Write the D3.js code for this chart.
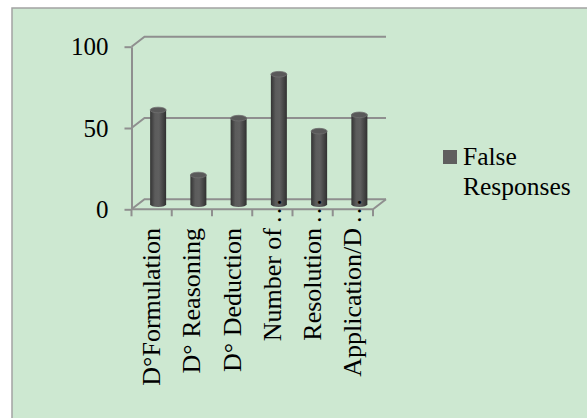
<!DOCTYPE html>
<html>
<head>
<meta charset="utf-8">
<script src="https://cdn.jsdelivr.net/npm/d3@7"></script>
<style>
  body { margin: 0; background: #fff; }
  text { font-family: "Liberation Serif", "Times New Roman", serif; fill: #000; }
</style>
</head>
<body>
<div id="chart"></div>
<script>
// data
var categories = ["D°Formulation", "D° Reasoning", "D° Deduction", "Number of…", "Resolution…", "Application/D…"];
var falseResponses = [58, 18, 53, 80, 45, 55];
var yTicks = [0, 50, 100];
var seriesName = ["False", "Responses"];

var width = 587, height = 418;
var depth = { x: 13, y: -10 };   // 3d wall offset
var backRight = 386;

var svg = d3.select("#chart")
  .append("svg")
  .attr("width", width)
  .attr("height", height);

// chart area
svg.append("rect")
  .attr("x", 12).attr("y", 8)
  .attr("width", width).attr("height", height)
  .attr("fill", "#cde8d1")
  .attr("stroke", "#a3a3a3")
  .attr("stroke-width", 1.5);

var x = d3.scaleBand()
  .domain(categories)
  .range([131.5, 373]);

var y = d3.scaleLinear()
  .domain([0, 100])
  .range([209.3, 46.7]);

var grid = svg.append("g")
  .attr("fill", "none")
  .attr("stroke", "#8f8f8f")
  .attr("stroke-width", 2);

// back wall gridlines
yTicks.forEach(function(t) {
  grid.append("path")
    .attr("d", "M" + x.range()[0] + "," + y(t) +
      "L" + (x.range()[0] + depth.x) + "," + (y(t) + depth.y) +
      "L" + backRight + "," + (y(t) + depth.y));
});
// floor front edge + right side
grid.append("path")
  .attr("d", "M" + x.range()[0] + "," + y(0) +
    "L" + x.range()[1] + "," + y(0) +
    "L" + backRight + "," + (y(0) + depth.y));

// category ticks at band edges
var edges = categories.map(function(c) { return x(c); }).concat([x.range()[1]]);
grid.selectAll("line.xt")
  .data(edges)
  .join("line")
  .attr("x1", function(d) { return d; })
  .attr("x2", function(d) { return d; })
  .attr("y1", y(0))
  .attr("y2", y(0) + 7);

// y axis
var yAxis = svg.append("g")
  .attr("transform", "translate(" + x.range()[0] + ",0)")
  .call(d3.axisLeft(y).tickValues(yTicks).tickSize(7).tickSizeOuter(0).tickPadding(16));
yAxis.select(".domain").attr("stroke", "#8f8f8f").attr("stroke-width", 2);
yAxis.selectAll(".tick line").attr("stroke", "#8f8f8f").attr("stroke-width", 2);
yAxis.selectAll(".tick text")
  .style("font-family", "Liberation Serif")
  .style("font-size", "25px")
  .attr("fill", "#000");

// cylinders
var defs = svg.append("defs");
var grad = defs.append("linearGradient")
  .attr("id", "cyl")
  .attr("x1", "0%").attr("x2", "100%");
grad.append("stop").attr("offset", "0%").attr("stop-color", "#333");
grad.append("stop").attr("offset", "30%").attr("stop-color", "#5c5c5c");
grad.append("stop").attr("offset", "55%").attr("stop-color", "#5f5f5f");
grad.append("stop").attr("offset", "100%").attr("stop-color", "#303030");

var bw = 16, ry = 2.8;
var mid = { x: depth.x / 2, y: depth.y / 2 };
var bars = svg.append("g").selectAll("g")
  .data(falseResponses)
  .join("g")
  .attr("transform", function(d, i) {
    return "translate(" + (x(categories[i]) + x.bandwidth() / 2 + mid.x) + "," + mid.y + ")";
  });

bars.append("path")
  .attr("fill", "url(#cyl)")
  .attr("d", function(d) {
    var top = y(d), base = y(0);
    return "M" + (-bw / 2) + "," + top +
      "L" + (-bw / 2) + "," + base +
      "A" + (bw / 2) + "," + ry + " 0 0 0 " + (bw / 2) + "," + base +
      "L" + (bw / 2) + "," + top + "Z";
  });
bars.append("ellipse")
  .attr("cx", 0)
  .attr("cy", function(d) { return y(d); })
  .attr("rx", bw / 2)
  .attr("ry", ry)
  .attr("fill", "#595959")
  .attr("stroke", "#707070")
  .attr("stroke-width", 0.8);

// category labels
var labels = svg.append("g").selectAll("g")
  .data(categories)
  .join("g")
  .attr("transform", function(d) {
    return "translate(" + (x(d) + x.bandwidth() / 2 + 8.5) + "," + 228 + ") rotate(-90)";
  })
  .style("font-size", "26px");

labels.append("text")
  .attr("text-anchor", "end")
  .text(function(d) { return d.replace("…", ""); });
labels.filter(function(d) { return d.indexOf("…") >= 0; })
  .append("text")
  .attr("x", 4)
  .attr("text-anchor", "start")
  .text("…");

// legend
var legend = svg.append("g").attr("transform", "translate(443,150)");
legend.append("rect")
  .attr("width", 14).attr("height", 14)
  .attr("fill", "#5f5f5f");
legend.selectAll("text")
  .data(seriesName)
  .join("text")
  .attr("x", 20)
  .attr("y", function(d, i) { return 15 + i * 30; })
  .style("font-size", "25.5px")
  .text(function(d) { return d; });
</script>
</body>
</html>
